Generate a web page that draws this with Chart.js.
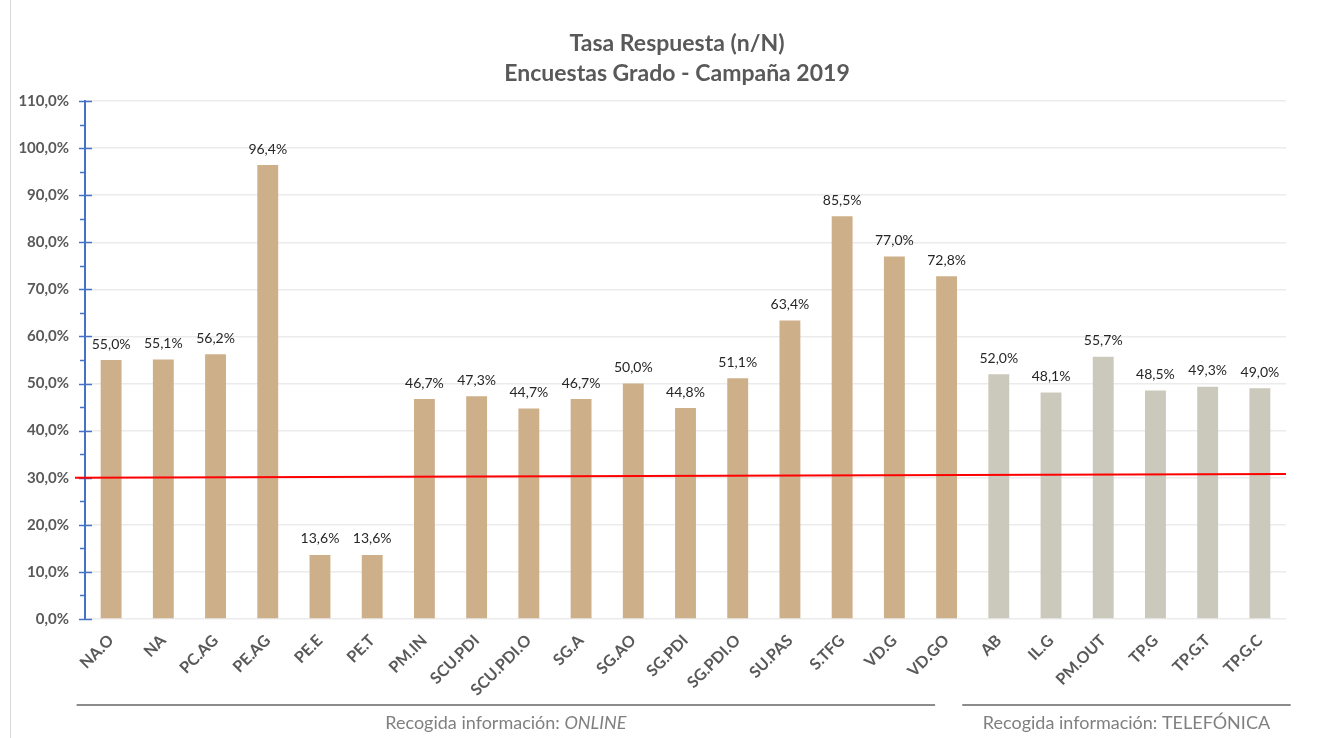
<!DOCTYPE html>
<html>
<head>
<meta charset="utf-8">
<script src="https://cdn.jsdelivr.net/npm/chart.js@4"></script>
<style>
  body { margin: 0; background: #fff; }
</style>
</head>
<body>
<canvas id="grafico" width="1330" height="738"></canvas>
<script>
const categorias = ['NA.O', 'NA', 'PC.AG', 'PE.AG', 'PE.E', 'PE.T', 'PM.IN', 'SCU.PDI', 'SCU.PDI.O', 'SG.A', 'SG.AO', 'SG.PDI', 'SG.PDI.O', 'SU.PAS', 'S.TFG', 'VD.G', 'VD.GO', 'AB', 'IL.G', 'PM.OUT', 'TP.G', 'TP.G.T', 'TP.G.C'];
const tasas = [55.0, 55.1, 56.2, 96.4, 13.6, 13.6, 46.7, 47.3, 44.7, 46.7, 50.0, 44.8, 51.1, 63.4, 85.5, 77.0, 72.8, 52.0, 48.1, 55.7, 48.5, 49.3, 49.0];
const recogida = ['ONLINE', 'ONLINE', 'ONLINE', 'ONLINE', 'ONLINE', 'ONLINE', 'ONLINE', 'ONLINE', 'ONLINE', 'ONLINE', 'ONLINE', 'ONLINE', 'ONLINE', 'ONLINE', 'ONLINE', 'ONLINE', 'ONLINE', 'TELEFÓNICA', 'TELEFÓNICA', 'TELEFÓNICA', 'TELEFÓNICA', 'TELEFÓNICA', 'TELEFÓNICA'];
const umbral = [30.0, 30.8]; // red line, left end and right end
const titulo = ['Tasa Respuesta (n/N)', 'Encuestas Grado - Campaña 2019'];

const fuente = 'Lato, "Open Sans", sans-serif';
const gris = '#595959';
const azul = '#4472C4';

function pct(v) {
  return v.toFixed(1).replace('.', ',') + '%';
}

const colores = recogida.map(function(r) { return r === 'ONLINE' ? '#CDB08A' : '#CBC9BB'; });

const extras = {
  id: 'extras',
  beforeDraw: function(chart) {
    const ctx = chart.ctx;
    ctx.save();
    ctx.fillStyle = '#fff';
    ctx.fillRect(0, 0, chart.width, chart.height);
    ctx.strokeStyle = '#d9d9d9';
    ctx.lineWidth = 1;
    ctx.beginPath();
    ctx.moveTo(10.5, 0);
    ctx.lineTo(10.5, chart.height);
    ctx.stroke();

    // title
    ctx.fillStyle = gris;
    ctx.font = 'bold 23px ' + fuente;
    ctx.textAlign = 'center';
    ctx.textBaseline = 'middle';
    ctx.fillText(titulo[0], 677, 44);
    ctx.fillText(titulo[1], 677, 74);
    ctx.restore();
  },
  afterDatasetsDraw: function(chart) {
    const ctx = chart.ctx;
    const y = chart.scales.y;
    const x = chart.scales.x;
    const area = chart.chartArea;
    ctx.save();

    // y axis ticks
    ctx.strokeStyle = azul;
    ctx.lineWidth = 1.5;
    for (let v = 0; v <= 110; v += 5) {
      const py = Math.round(y.getPixelForValue(v)) + 0.5;
      ctx.beginPath();
      if (v % 10 === 0) {
        ctx.moveTo(area.left - 6, py);
        ctx.lineTo(area.left + 7, py);
      } else {
        ctx.moveTo(area.left - 5, py);
        ctx.lineTo(area.left, py);
      }
      ctx.stroke();
    }

    // data labels
    ctx.fillStyle = '#262626';
    ctx.font = '14px ' + fuente;
    ctx.textAlign = 'center';
    ctx.textBaseline = 'middle';
    chart.getDatasetMeta(0).data.forEach(function(bar, i) {
      ctx.fillText(pct(tasas[i]), bar.x, bar.y - 16);
    });

    // threshold line
    ctx.strokeStyle = '#FF0000';
    ctx.lineWidth = 2;
    ctx.beginPath();
    ctx.moveTo(area.left - 10, y.getPixelForValue(umbral[0]));
    ctx.lineTo(area.right, y.getPixelForValue(umbral[1]));
    ctx.stroke();

    // group brackets below the labels
    const paso = x.getPixelForValue(1) - x.getPixelForValue(0);
    const ultimoOnline = recogida.lastIndexOf('ONLINE');
    const primeroTel = recogida.indexOf('TELEFÓNICA');
    const grupos = [
      { a: x.getPixelForValue(0) - 0.66 * paso, b: x.getPixelForValue(ultimoOnline) - 0.22 * paso, txt: 'ONLINE', italica: true },
      { a: x.getPixelForValue(primeroTel) - 0.7 * paso, b: x.getPixelForValue(recogida.length - 1) + 0.59 * paso, txt: 'TELEFÓNICA', italica: false }
    ];
    const lineaY = 705;
    grupos.forEach(function(g) {
      ctx.strokeStyle = '#8c8c8c';
      ctx.lineWidth = 2;
      ctx.beginPath();
      ctx.moveTo(g.a, lineaY);
      ctx.lineTo(g.b, lineaY);
      ctx.stroke();

      const base = 'Recogida información: ';
      ctx.font = '18px ' + fuente;
      const w1 = ctx.measureText(base).width;
      ctx.font = (g.italica ? 'italic ' : '') + '18px ' + fuente;
      const w2 = ctx.measureText(g.txt).width;
      let sx = (g.a + g.b) / 2 - (w1 + w2) / 2;
      ctx.fillStyle = '#808080';
      ctx.textAlign = 'left';
      ctx.textBaseline = 'middle';
      ctx.font = '18px ' + fuente;
      ctx.fillText(base, sx, 723);
      ctx.font = (g.italica ? 'italic ' : '') + '18px ' + fuente;
      ctx.fillText(g.txt, sx + w1, 723);
    });
    ctx.restore();
  }
};

new Chart(document.getElementById('grafico'), {
  type: 'bar',
  data: {
    labels: categorias,
    datasets: [{
      data: tasas,
      backgroundColor: colores,
      barPercentage: 0.4,
      categoryPercentage: 1
    }]
  },
  options: {
    responsive: false,
    devicePixelRatio: 1,
    animation: false,
    layout: { padding: { left: 0, right: 44, top: 101, bottom: 0 } },
    plugins: {
      legend: { display: false },
      tooltip: { enabled: false },
      title: { display: false }
    },
    scales: {
      x: {
        grid: { display: false },
        border: { display: false },
        ticks: {
          color: gris,
          font: { family: fuente, size: 16, weight: 'bold' },
          minRotation: 45,
          maxRotation: 45,
          padding: 4,
          autoSkip: false
        },
        afterFit: function(s) { s.height = 119; }
      },
      y: {
        min: 0,
        max: 110,
        grid: { color: '#ebebeb', lineWidth: 1.5, drawTicks: false },
        border: { color: azul, width: 2 },
        ticks: {
          stepSize: 10,
          color: gris,
          padding: 16,
          font: { family: fuente, size: 15, weight: 'bold' },
          callback: function(v) { return pct(v); }
        },
        afterFit: function(s) { s.width = 85; }
      }
    }
  },
  plugins: [extras]
});
</script>
</body>
</html>
